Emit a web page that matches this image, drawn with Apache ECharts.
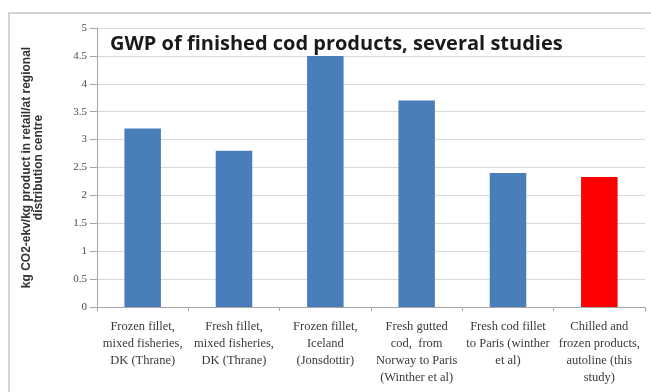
<!DOCTYPE html>
<html>
<head>
<meta charset="utf-8">
<script src="https://cdn.jsdelivr.net/npm/echarts@6/dist/echarts.min.js"></script>
<style>
  html, body { margin: 0; padding: 0; background: #fff; }
  #chart { width: 651px; height: 392px; }
</style>
</head>
<body>
<div id="chart"></div>
<script>
// Studies compared, one bar each (x-axis labels carry explicit line breaks)
const categories = [
  'Frozen fillet,\nmixed fisheries,\nDK (Thrane)',
  'Fresh fillet,\nmixed fisheries,\nDK (Thrane)',
  'Frozen fillet,\nIceland\n(Jonsdottir)',
  'Fresh gutted\ncod,  from\nNorway to Paris\n(Winther et al)',
  'Fresh cod fillet\nto Paris (winther\net al)',
  'Chilled and\nfrozen products,\nautoline (this\nstudy)'
];
// kg CO2-eq per kg product
const gwpValues = [3.2, 2.8, 4.5, 3.7, 2.4, 2.33];
// index of the bar for this study, drawn in red
const highlightIndex = 5;
const yTicks = { min: 0, max: 5, interval: 0.5 };

const chart = echarts.init(document.getElementById('chart'), null, { renderer: 'canvas' });

const seriesData = gwpValues.map((v, i) => ({
  value: v,
  itemStyle: { color: i === highlightIndex ? '#ff0000' : '#4a7ebb' }
}));

chart.setOption({
  animation: false,
  backgroundColor: '#ffffff',
  graphic: [{
    type: 'rect',
    shape: { x: 9, y: 13, width: 700, height: 400 },
    style: { fill: 'none', stroke: '#d4d4d4', lineWidth: 2 },
    silent: true,
    z: -1
  }],
  title: {
    text: 'GWP of finished cod products, several studies',
    left: 105,
    top: 29,
    textStyle: {
      fontFamily: 'Open Sans',
      fontWeight: 'bold',
      fontSize: 20,
      color: '#1a1a1a'
    }
  },
  grid: { left: 97, right: 6, top: 28, bottom: 85 },
  xAxis: {
    type: 'category',
    data: categories,
    axisLine: { lineStyle: { color: '#a6a6a6', width: 1 } },
    axisTick: { show: true, length: 4, alignWithLabel: false, lineStyle: { color: '#a6a6a6' } },
    axisLabel: {
      interval: 0,
      margin: 11,
      fontFamily: 'Liberation Serif',
      fontSize: 12.5,
      lineHeight: 17,
      color: '#3a3a3a'
    }
  },
  yAxis: {
    type: 'value',
    min: yTicks.min,
    max: yTicks.max,
    interval: yTicks.interval,
    name: 'kg CO2-ekv/kg product in retail/at regional\ndistribution centre',
    nameLocation: 'middle',
    nameGap: 52,
    nameRotate: 90,
    nameTextStyle: {
      fontFamily: 'Liberation Sans',
      fontWeight: 'bold',
      fontSize: 12,
      lineHeight: 12,
      color: '#333333'
    },
    axisLine: { show: true, lineStyle: { color: '#a6a6a6' } },
    axisTick: { show: true, length: 7, lineStyle: { color: '#a6a6a6' } },
    axisLabel: {
      margin: 10,
      fontFamily: 'Liberation Serif',
      fontSize: 11,
      color: '#4a4a4a'
    },
    splitLine: { show: true, lineStyle: { color: '#d9d9d9', width: 1 } }
  },
  series: [{
    type: 'bar',
    data: seriesData,
    barWidth: '40%'
  }]
});
</script>
</body>
</html>
